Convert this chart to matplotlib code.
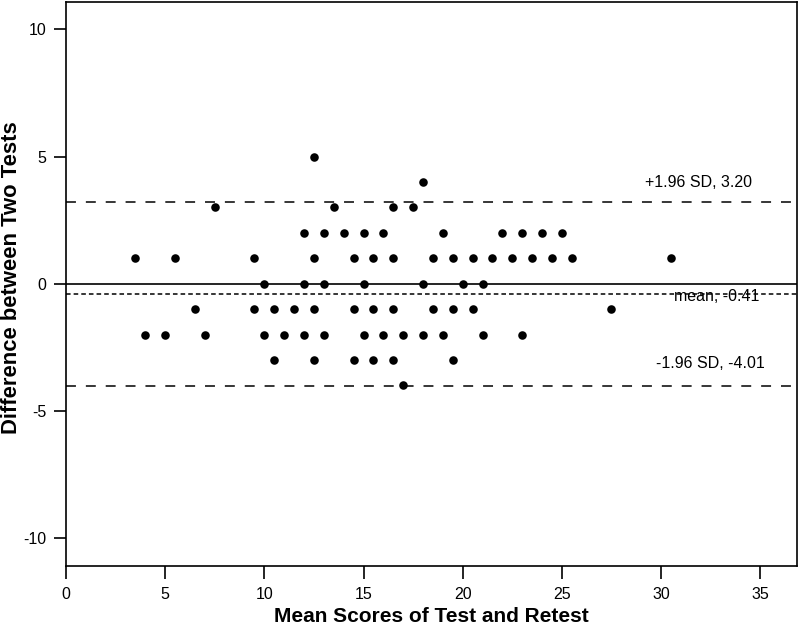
import matplotlib
matplotlib.use("Agg")
import matplotlib.pyplot as plt

plt.rcParams['font.family'] = ['Liberation Sans', 'DejaVu Sans']
plt.rcParams['axes.unicode_minus'] = False

# mean of test/retest (x) and difference between tests (y), read row by row
mean_scores = [12.5,
               18,
               7.5, 13.5, 16.5, 17.5,
               12, 13, 14, 15, 16, 19, 22, 23, 24, 25,
               3.5, 5.5, 9.5, 12.5, 14.5, 15.5, 16.5, 18.5, 19.5, 20.5, 21.5, 22.5, 23.5, 24.5, 25.5, 30.5,
               10, 12, 13, 15, 18, 20, 21,
               6.5, 9.5, 10.5, 11.5, 12.5, 14.5, 15.5, 16.5, 18.5, 19.5, 20.5, 27.5,
               4, 5, 7, 10, 11, 12, 13, 15, 16, 17, 18, 19, 21, 23,
               10.5, 12.5, 14.5, 15.5, 16.5, 19.5,
               17]
differences = [5,
               4,
               3, 3, 3, 3,
               2, 2, 2, 2, 2, 2, 2, 2, 2, 2,
               1, 1, 1, 1, 1, 1, 1, 1, 1, 1, 1, 1, 1, 1, 1, 1,
               0, 0, 0, 0, 0, 0, 0,
               -1, -1, -1, -1, -1, -1, -1, -1, -1, -1, -1, -1,
               -2, -2, -2, -2, -2, -2, -2, -2, -2, -2, -2, -2, -2, -2,
               -3, -3, -3, -3, -3, -3,
               -4]

mean_diff = -0.41
upper_loa = 3.20
lower_loa = -4.01

fig = plt.figure(figsize=(7.99, 6.3), dpi=100)
ax = fig.add_axes([0.0826, 0.1016, 0.915, 0.896])

ax.axhline(0, color='black', lw=1.2, zorder=1)
ax.axhline(mean_diff, color='black', lw=1.1, linestyle=(0, (3.0, 2.0)), zorder=1)
ax.axhline(upper_loa, color='black', lw=1.1, linestyle=(0, (6.5, 6.5)), zorder=1)
ax.axhline(lower_loa, color='black', lw=1.1, linestyle=(0, (6.5, 6.5)), zorder=1)

ax.scatter(mean_scores, differences, s=38, color='black', zorder=3, linewidths=0)

ax.text(31.9, 4.0, "+1.96 SD, %.2f" % upper_loa, ha='center', va='center', fontsize=11.5)
ax.text(32.8, -0.52, "mean, %.2f" % mean_diff, ha='center', va='center', fontsize=11.5)
ax.text(32.5, -3.13, "-1.96 SD, %.2f" % lower_loa, ha='center', va='center', fontsize=11.5)

ax.set_xlim(0, 36.86)
ax.set_ylim(-11.1, 11.1)
ax.set_xticks([0, 5, 10, 15, 20, 25, 30, 35])
ax.set_yticks([-10, -5, 0, 5, 10])
ax.tick_params(direction='out', length=9, width=1.2, labelsize=11.5, pad=5)
ax.tick_params(axis='x', pad=6)

for side in ['left', 'bottom', 'right', 'top']:
    ax.spines[side].set_linewidth(1.2)

ax.set_xlabel("Mean Scores of Test and Retest", fontsize=15, fontweight='bold', labelpad=4)
fig.text(12 / 799, 1 - 278 / 630, "Difference between Two Tests", rotation=90,
         ha='center', va='center', fontsize=15.8, fontweight='bold')

fig.savefig("out.png", dpi=100)
